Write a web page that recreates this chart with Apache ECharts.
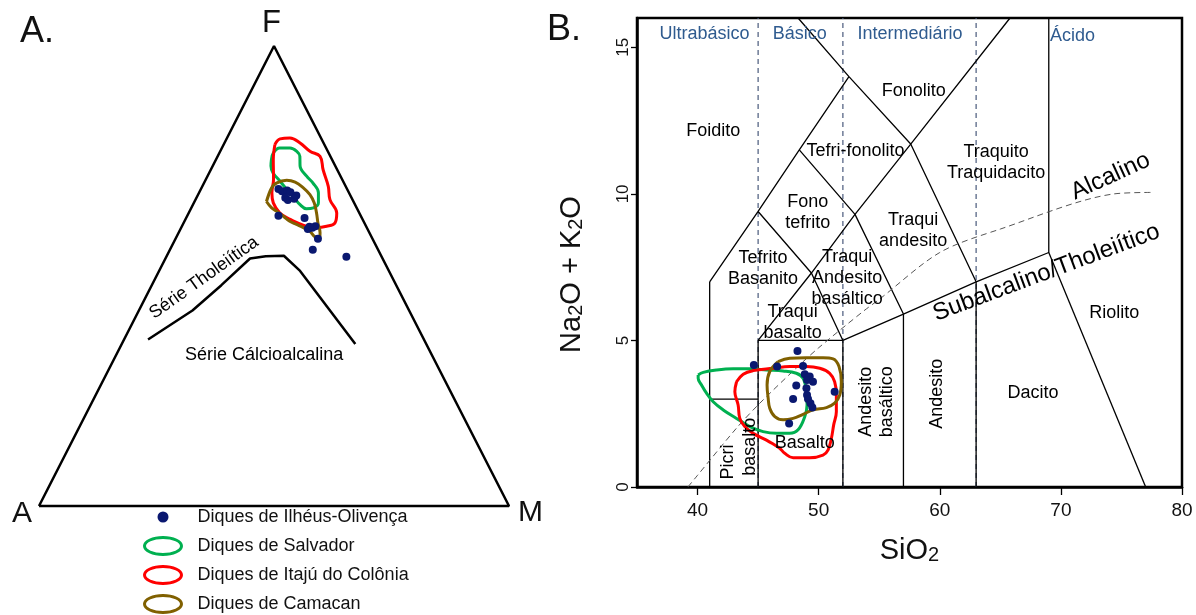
<!DOCTYPE html>
<html><head><meta charset="utf-8">
<script src="https://cdn.jsdelivr.net/npm/echarts@6/dist/echarts.min.js"></script>
<style>html,body{margin:0;padding:0;background:#fff}#c{width:1196px;height:615px}</style>
</head><body><div id="c"></div>
<script>
const FONT = "'Liberation Sans', Arial, Helvetica, sans-serif";

// ---------- Panel A: AFM ternary, values as [F%, M%]  (A% = 100 - F - M)
const afmTriangle = [[0,0],[0,100],[100,0],[0,0]];
const afmBoundary = [[36.2,5.1],[42.5,11.4],[48.0,14.8],[53.8,18.0],[54.3,21.1],[54.4,24.9],[51.1,30.0],[35.2,49.7]];
const afmIlheus = [[68.9,16.5],[68.4,17.5],[68.6,18.5],[68.2,19.4],[67.0,18.9],[66.5,19.7],[67.5,21.0],[66.8,20.9],
  [63.1,19.4],[62.6,25.2],[60.2,27.1],[60.5,27.9],[60.8,28.4],[60.7,27.2],[58.1,30.3],[55.7,30.4],[54.2,38.3]];
const afmSalvador = [[75.3,11.8],[76.8,11.5],[77.8,12.3],[77.8,14.5],[77.1,16.3],[76.0,17.5],[73.9,18.6],[71.7,21.1],
  [70.2,23.2],[68.1,25.4],[65.9,26.5],[64.8,26.0],[64.6,24.6],[65.5,22.8],[67.3,20.4],[68.8,18.3],[70.6,16.0],[72.4,13.6],[73.9,12.4],[75.3,11.8]];
const afmItaju = [[78.6,10.9],[79.8,11.4],[80.0,13.4],[78.9,16.1],[77.1,19.1],[76.0,21.8],[73.1,23.9],[69.5,26.8],[66.6,28.6],
  [63.7,31.5],[61.5,32.2],[60.8,30.8],[60.5,28.8],[60.8,26.5],[61.5,24.4],[62.3,22.3],[63.7,19.4],[65.9,16.9],[68.1,15.5],[71.0,14.4],[75.3,12.2],[78.6,10.9]];
const afmCamacan = [[66.2,15.3],[69.2,14.9],[70.2,15.4],[70.8,17.3],[70.4,19.3],[69.2,21.6],[67.7,23.8],[65.9,25.6],[63.7,27.2],
  [61.5,28.6],[59.4,30.1],[58.3,30.6],[58.5,29.5],[59.7,27.8],[60.5,26.0],[61.2,24.2],[61.9,22.4],[63.0,20.5],[64.1,18.5],[64.8,17.1],[66.2,15.3]];
const afmLabelNames = ['Série Tholeiítica', 'Série Cálcioalcalina'];
const afmLabelPos = [[49.6,10.3],[32.8,31.5]];
const afmLabelRot = [35.5, 0];

// ---------- Panel B: TAS (SiO2 vs Na2O + K2O)
const xTicks = [40,50,60,70,80];
const yTicks = [0,5,10,15];
const tasPicroLeft = [[41,0],[41,7]];
const tasTephriteTop = [[41,7],[45,9.4],[48.4,11.5],[52.5,14]];
const tasPhonoliteBase = [[48.3,16],[52.5,14],[57.6,11.7],[63,7]];
const tasPicroTop = [[41,3],[45,3]];
const tasBasaltTop = [[45,0],[45,5],[52,5]];
const tasAlkaliRidge = [[45,5],[49.4,7.3],[53,9.3],[57.6,11.7],[65.8,16]];
const tasTephriteRight = [[45,9.4],[49.4,7.3],[52,5]];
const tasPhonotephriteRight = [[48.4,11.5],[53,9.3],[57,5.9]];
const tasSubalkaline = [[52,0],[52,5],[57,5.9],[63,7],[69,8],[69,16]];
const tasAndesiteLeft = [[57,0],[57,5.9]];
const tasDaciteLeft = [[63,0],[63,7]];
const tasRhyoliteLeft = [[69,8],[77,0]];
const silicaDivisions = [45, 52, 63];
const alkalineCurve = [[39.2,0],[40,0.4],[43.2,2],[45,2.8],[48,4],[50,4.75],[53.7,6],[55,6.4],[60,8],[65,8.8],[74.4,10],[77.6,10.05]];

const tasIlheus = [[48.25,4.64],[44.65,4.16],[46.57,4.11],[48.71,4.13],[48.85,3.85],[49.26,3.77],[49.04,3.65],[49.53,3.59],
  [48.15,3.46],[48.99,3.37],[49.04,3.14],[49.12,3.0],[49.32,2.86],[49.48,2.71],[47.89,3.0],[51.32,3.25],[47.56,2.17]];
const tasSalvador = [[40.05,3.82],[40.47,3.91],[41.57,3.99],[42.94,4.03],[44.32,4.03],[45.69,3.99],[47.06,3.96],[48.16,3.88],
  [48.71,3.71],[48.99,3.25],[49.04,2.8],[48.85,2.4],[48.3,1.95],[47.61,1.83],[46.52,1.83],[45.41,1.89],[44.32,2.06],[43.22,2.34],
  [42.12,2.63],[41.29,2.91],[40.74,3.2],[40.33,3.48],[40.05,3.71],[40.05,3.82]];
const tasItaju = [[43.22,3.59],[43.77,3.85],[44.59,3.97],[46.24,4.05],[47.61,4.11],[48.99,4.11],[50.09,4.05],[50.91,3.88],
  [51.32,3.59],[51.46,3.14],[51.46,2.57],[51.24,2.12],[51.05,1.66],[50.77,1.26],[50.36,1.09],[49.26,1.0],[47.89,1.0],[47.2,1.15],
  [46.79,1.32],[46.38,1.43],[45.69,1.6],[44.59,1.83],[43.9,2.06],[43.49,2.34],[43.35,2.8],[43.08,3.25],[43.22,3.59]];
const tasCamacan = [[46.65,4.28],[47.61,4.39],[48.99,4.41],[50.36,4.41],[51.19,4.37],[51.68,4.11],[51.87,3.59],[51.74,3.14],
  [51.32,2.86],[50.64,2.71],[49.54,2.63],[48.71,2.48],[47.89,2.34],[47.06,2.29],[46.38,2.4],[45.96,2.69],[45.83,3.03],[45.74,3.48],[45.96,3.94],[46.65,4.28]];

const fieldNames = ['Foidito','Tefri-fonolito','Fonolito','Traquito\nTraquidacito','Fono\ntefrito','Traqui\nandesito',
  'Tefrito\nBasanito','Traqui\nAndesito\nbasáltico','Traqui\nbasalto','Basalto','Picri','basalto','Andesito\nbasáltico','Andesito','Dacito','Riolito'];
const fieldPos = [[41.3,12.15],[53.05,11.47],[57.85,13.5],[64.65,11.08],[49.1,9.36],[57.8,8.75],
  [45.4,7.46],[52.35,7.12],[47.85,5.6],[48.85,1.49],[42.53,0.85],[44.3,1.37],[54.75,2.91],[59.8,3.18],[67.7,3.21],[74.4,5.94]];
const fieldRot = [0,0,0,0,0,0,0,0,0,0,90,90,90,90,0,0];
const classNames = ['Ultrabásico','Básico','Intermediário','Ácido'];
const classPos = [[40.57,15.45],[48.44,15.45],[57.55,15.45],[70.95,15.4]];
const seriesNames = ['Alcalino','Subalcalino/Tholeiítico'];
const seriesPos = [[74.1,10.6],[68.8,7.31]];
const seriesRot = [24.5, 20.5];

const NAME_IO = 'Diques de Ilhéus-Olivença';
const NAME_SAL = 'Diques de Salvador';
const NAME_ITA = 'Diques de Itajú do Colônia';
const NAME_CAM = 'Diques de Camacan';
const C_DOT = '#0a1870', C_GREEN = '#00b050', C_RED = '#ff0000', C_BROWN = '#806000';

// ternary -> cartesian (A at (0,0), M at (1,0), F at (0.5,1))
const toXY = p => [p[1] / 100 + p[0] / 200, p[0] / 100];

function lineA(data, color, width, name, smooth) {
  return { type: 'line', name: name, xAxisIndex: 0, yAxisIndex: 0, data: data.map(toXY), symbol: 'none',
    smooth: smooth || false, clip: false, silent: true, lineStyle: { color: color, width: width, opacity: 1 }, z: 3 };
}
function lineB(data, opts) {
  opts = opts || {};
  return { type: 'line', name: opts.name, xAxisIndex: 1, yAxisIndex: 1, data: data, symbol: 'none', smooth: opts.smooth || false,
    clip: false, silent: true, z: opts.z || 2,
    lineStyle: { color: opts.color || '#000', width: opts.width || 1.3, type: opts.type || 'solid', opacity: 1 } };
}
function labelSeries(xi, names, pos, rot, style) {
  return { type: 'scatter', xAxisIndex: xi, yAxisIndex: xi, symbolSize: 1, silent: true, z: 6,
    itemStyle: { color: 'rgba(0,0,0,0)', opacity: 1 },
    data: names.map((n, i) => ({ name: n, value: pos[i], label: { rotate: rot[i] } })),
    label: Object.assign({ show: true, position: 'inside', formatter: '{b}', fontFamily: FONT, align: 'center', verticalAlign: 'middle' }, style) };
}

const series = [
  lineA(afmTriangle, '#000', 2.5),
  lineA(afmBoundary, '#000', 2.5),
  lineA(afmSalvador, C_GREEN, 3, NAME_SAL, 0.4),
  lineA(afmItaju, C_RED, 3, NAME_ITA, 0.4),
  lineA(afmCamacan, C_BROWN, 3, NAME_CAM, 0.4),
  { type: 'scatter', name: NAME_IO, xAxisIndex: 0, yAxisIndex: 0, data: afmIlheus.map(toXY), symbolSize: 8,
    itemStyle: { color: C_DOT, opacity: 1 }, z: 5 },
  labelSeries(0, afmLabelNames, afmLabelPos.map(toXY), afmLabelRot, { fontSize: 18, color: '#000' }),
];
[tasPicroLeft, tasTephriteTop, tasPhonoliteBase, tasPicroTop, tasBasaltTop, tasAlkaliRidge, tasTephriteRight,
 tasPhonotephriteRight, tasSubalkaline, tasAndesiteLeft, tasDaciteLeft, tasRhyoliteLeft].forEach(d => series.push(lineB(d)));
silicaDivisions.forEach(s => series.push(lineB([[s,0],[s,16]], { color: '#4a5a7c', width: 1.2, type: [5,4], z: 1 })));
series.push(lineB(alkalineCurve, { color: '#555', width: 1, type: [6,4], smooth: 0.3 }));
series.push(lineB(tasSalvador, { name: NAME_SAL, color: C_GREEN, width: 3, smooth: 0.4, z: 4 }));
series.push(lineB(tasItaju, { name: NAME_ITA, color: C_RED, width: 3, smooth: 0.4, z: 4 }));
series.push(lineB(tasCamacan, { name: NAME_CAM, color: C_BROWN, width: 3, smooth: 0.4, z: 4 }));
series.push({ type: 'scatter', name: NAME_IO, xAxisIndex: 1, yAxisIndex: 1, data: tasIlheus, symbolSize: 8, itemStyle: { color: C_DOT, opacity: 1 }, z: 5 });
series.push(labelSeries(1, fieldNames, fieldPos, fieldRot, { fontSize: 18, color: '#000', lineHeight: 21 }));
series.push(labelSeries(1, classNames, classPos, [0,0,0,0], { fontSize: 18, color: '#2f5b8f' }));
series.push(labelSeries(1, seriesNames, seriesPos, seriesRot, { fontSize: 24, color: '#000' }));

const dotIcon = 'path://M0,0M37,0M37,17M0,17M13,8.5a5.5,5.5 0 1,0 11,0a5.5,5.5 0 1,0 -11,0z';
const ellIcon = 'path://M0,8.5A18.5,8.5 0 1 1 37,8.5A18.5,8.5 0 1 1 0,8.5Z';

const option = {
  animation: false,
  textStyle: { fontFamily: FONT },
  grid: [
    { left: 39, top: 46, width: 470, height: 460, show: false },
    { left: 637, top: 18, width: 545, height: 469, show: true, borderColor: '#000', borderWidth: 2.5, backgroundColor: 'transparent' }
  ],
  xAxis: [
    { gridIndex: 0, type: 'value', min: 0, max: 1, show: false },
    { gridIndex: 1, type: 'value', min: 35, max: 80, splitLine: { show: false },
      axisLine: { show: true, onZero: false, lineStyle: { color: '#000', width: 2.5 } },
      axisTick: { show: true, length: 8, customValues: xTicks, lineStyle: { color: '#000', width: 1.3 } },
      axisLabel: { customValues: xTicks, fontSize: 19, color: '#111', margin: 14, fontFamily: FONT },
      name: '{n|SiO}{s|2}', nameLocation: 'middle', nameGap: 49,
      nameTextStyle: { rich: { n: { fontSize: 29, fontFamily: FONT, color: '#111', verticalAlign: 'bottom' },
                               s: { fontSize: 20, fontFamily: FONT, color: '#111', verticalAlign: 'bottom' } } } }
  ],
  yAxis: [
    { gridIndex: 0, type: 'value', min: 0, max: 1, show: false },
    { gridIndex: 1, type: 'value', min: 0, max: 16, splitLine: { show: false },
      axisLine: { show: true, onZero: false, lineStyle: { color: '#000', width: 2.5 } },
      axisTick: { show: true, length: 6, customValues: yTicks, lineStyle: { color: '#000', width: 1.3 } },
      axisLabel: { customValues: yTicks, rotate: 90, fontSize: 17, color: '#111', margin: 5, fontFamily: FONT },
      name: '{n|Na}{s|2}{n|O + K}{s|2}{n|O}', nameLocation: 'middle', nameGap: 51,
      nameTextStyle: { padding: [0, 44, 0, 0], rich: { n: { fontSize: 29, fontFamily: FONT, color: '#111', verticalAlign: 'bottom' },
                               s: { fontSize: 20, fontFamily: FONT, color: '#111', verticalAlign: 'bottom' } } } }
  ],
  legend: {
    orient: 'vertical', left: 143, top: 507, height: 140, padding: 0, itemWidth: 37, itemHeight: 17, itemGap: 9,
    selectedMode: false,
    textStyle: { fontSize: 18, lineHeight: 20, color: '#111', fontFamily: FONT, padding: [0, 0, 0, 11] },
    data: [
      { name: NAME_IO, icon: dotIcon, itemStyle: { color: C_DOT, borderWidth: 0, opacity: 1 } },
      { name: NAME_SAL, icon: ellIcon, itemStyle: { color: 'rgba(0,0,0,0)', borderColor: C_GREEN, borderWidth: 3 } },
      { name: NAME_ITA, icon: ellIcon, itemStyle: { color: 'rgba(0,0,0,0)', borderColor: C_RED, borderWidth: 3 } },
      { name: NAME_CAM, icon: ellIcon, itemStyle: { color: 'rgba(0,0,0,0)', borderColor: C_BROWN, borderWidth: 3 } }
    ]
  },
  graphic: [
    { type: 'text', left: 20, top: 14, style: { text: 'A.', font: '36px ' + FONT, fill: '#111' } },
    { type: 'text', left: 547, top: 12, style: { text: 'B.', font: '36px ' + FONT, fill: '#111' } },
    { type: 'text', left: 262, top: 8, style: { text: 'F', font: '31px ' + FONT, fill: '#111' } },
    { type: 'text', left: 12, top: 499, style: { text: 'A', font: '30px ' + FONT, fill: '#111' } },
    { type: 'text', left: 518, top: 498, style: { text: 'M', font: '30px ' + FONT, fill: '#111' } }
  ],
  series: series
};
const chart = echarts.init(document.getElementById('c'), null, { renderer: 'canvas' });
chart.setOption(option);
</script></body></html>
